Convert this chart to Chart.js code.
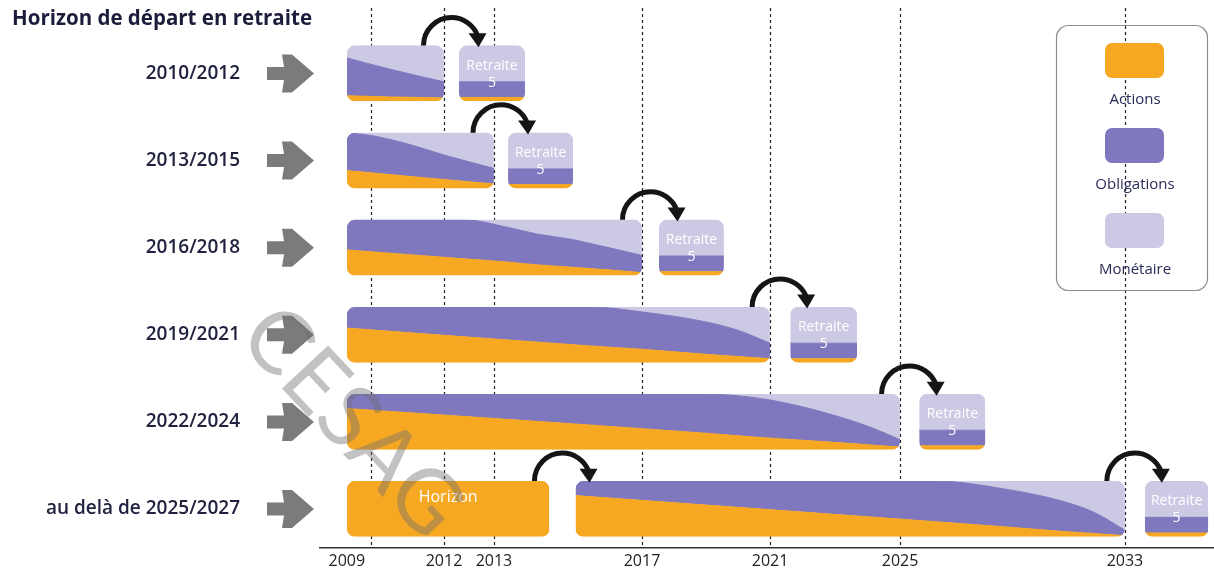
<!DOCTYPE html>
<html lang="fr">
<head>
<meta charset="utf-8">
<title>Horizon de départ en retraite</title>
<script src="https://cdn.jsdelivr.net/npm/chart.js@4.4.1/dist/chart.umd.min.js"></script>
<style>
  html, body { margin: 0; padding: 0; background: #fff; }
  #wrap { position: relative; width: 1214px; height: 571px; }
</style>
</head>
<body>
<div id="wrap"><canvas id="profil"></canvas></div>
<script>
// Libellés
const titleText = 'Horizon de départ en retraite';
const rowLabels = ['2010/2012', '2013/2015', '2016/2018', '2019/2021', '2022/2024', 'au delà de 2025/2027'];
const seriesNames = ['Actions', 'Obligations', 'Monétaire'];
const tickYears = [2009, 2012, 2013, 2017, 2021, 2025, 2033];
const dashYears = [2010, 2012, 2013, 2017, 2021, 2025, 2033];

// L'axe des années est schématique (non linéaire) dans l'original
const anchorYears = [2008, 2009, 2010, 2012, 2013, 2017, 2021, 2025, 2033, 2036.2];
const anchorPos   = [0, 0.030, 0.057, 0.1387, 0.1946, 0.3602, 0.5034, 0.6488, 0.9004, 1];

// Répartition en % de chaque profil (années, actions, obligations, monétaire)
const row1Years  = [2009, 2010.5, 2012];
const row1Actions = [10, 8, 6];
const row1Oblig   = [68, 50, 29];
const row1Monet   = [22, 42, 65];

const row2Years  = [2009, 2010, 2011, 2012, 2013];
const row2Actions = [32, 28, 22, 16, 8];
const row2Oblig   = [68, 67, 58, 44, 28];
const row2Monet   = [0, 5, 20, 40, 64];

const row3Years  = [2009, 2012.4, 2013.4, 2014.2, 2015.1, 2015.7, 2016.5, 2017];
const row3Actions = [46, 30, 24, 19, 15, 12, 8, 5];
const row3Oblig   = [54, 70, 62, 55, 50, 44, 36, 31];
const row3Monet   = [0, 0, 14, 26, 35, 44, 56, 64];

const row4Years  = [2009, 2015.6, 2017, 2019, 2020, 2021];
const row4Actions = [62, 30, 24, 15, 11, 7];
const row4Oblig   = [38, 70, 67, 58, 47, 28];
const row4Monet   = [0, 0, 9, 27, 42, 65];

const row5Years  = [2009, 2018.9, 2020.7, 2022, 2023.3, 2024.2, 2025];
const row5Actions = [74, 30, 22, 17, 12, 8, 5];
const row5Oblig   = [26, 70, 70, 60, 44, 30, 13];
const row5Monet   = [0, 0, 8, 23, 44, 62, 82];

const row6Years  = [2015.2, 2026.3, 2028.7, 2030.7, 2031.9, 2033];
const row6Actions = [74, 27, 18, 10, 6, 2];
const row6Oblig   = [26, 73, 68, 55, 38, 10];
const row6Monet   = [0, 0, 14, 35, 56, 88];

// Période "Horizon" (100 % actions) de la dernière ligne
const horizonYears = [2009, 2014.5];
const horizonLabel = 'Horizon';

// Phase de retraite (5 ans) après chaque profil
const retraiteStart = [2012.3, 2013.38, 2017.53, 2021.62, 2025.68, 2033.71];
const retraiteEnd   = [2013.84, 2015.14, 2019.56, 2023.68, 2028.04, 2036.0];
const retraiteActions = 7;
const retraiteOblig = 28;
const retraiteMonet = 65;
const retraiteLabel = ['Retraite', '5'];

const colors = ['#F7A823', '#7F78BE', '#CCC9E5'];
const BAND_HALF = 0.32;

function toX(year) {
    for (let k = 1; k < anchorYears.length; k++) {
        if (year <= anchorYears[k]) {
            const t = (year - anchorYears[k - 1]) / (anchorYears[k] - anchorYears[k - 1]);
            return anchorPos[k - 1] + t * (anchorPos[k] - anchorPos[k - 1]);
        }
    }
    return 1;
}

// position verticale d'une part cumulée (%) dans la bande d'une ligne
function rowY(row, share) {
    return row + BAND_HALF - 2 * BAND_HALF * share / 100;
}

// Construction des segments
const bands = [
    [row1Years, row1Actions, row1Oblig, row1Monet],
    [row2Years, row2Actions, row2Oblig, row2Monet],
    [row3Years, row3Actions, row3Oblig, row3Monet],
    [row4Years, row4Actions, row4Oblig, row4Monet],
    [row5Years, row5Actions, row5Oblig, row5Monet],
    [row6Years, row6Actions, row6Oblig, row6Monet],
];
const segments = [];
bands.forEach((b, i) => {
    if (i === 5) {
        segments.push({ row: i, kind: 'horizon', years: horizonYears, actions: [100, 100], oblig: [0, 0], monet: [0, 0] });
    }
    segments.push({ row: i, kind: 'band', years: b[0], actions: b[1], oblig: b[2], monet: b[3] });
    segments.push({
        row: i, kind: 'retraite', years: [retraiteStart[i], retraiteEnd[i]],
        actions: [retraiteActions, retraiteActions], oblig: [retraiteOblig, retraiteOblig], monet: [retraiteMonet, retraiteMonet]
    });
});

const datasets = [];
segments.forEach(seg => {
    datasets.push({
        data: seg.years.map(y => ({ x: toX(y), y: rowY(seg.row, 0) })),
        fill: false, borderWidth: 0, borderColor: 'rgba(0,0,0,0)'
    });
    let cum = seg.years.map(() => 0);
    [seg.actions, seg.oblig, seg.monet].forEach((vals, k) => {
        if (vals.every(v => v === 0)) return;
        cum = cum.map((c, j) => c + vals[j]);
        datasets.push({
            label: seriesNames[k],
            data: seg.years.map((y, j) => ({ x: toX(y), y: rowY(seg.row, cum[j]) })),
            fill: '-1',
            backgroundColor: colors[k],
            borderColor: colors[k],
            borderWidth: 1
        });
    });
});

function segRect(chart, seg) {
    const xs = chart.scales.x, ys = chart.scales.y;
    return {
        x0: xs.getPixelForValue(toX(seg.years[0])),
        x1: xs.getPixelForValue(toX(seg.years[seg.years.length - 1])),
        top: ys.getPixelForValue(seg.row - BAND_HALF),
        bottom: ys.getPixelForValue(seg.row + BAND_HALF)
    };
}

function curvedArrow(ctx, cx, cy) {
    const r = 28, end = Math.PI * 1.88;
    ctx.beginPath();
    ctx.arc(cx, cy, r, Math.PI, end);
    ctx.lineWidth = 5;
    ctx.strokeStyle = '#151515';
    ctx.stroke();
    const ex = cx + r * Math.cos(end), ey = cy + r * Math.sin(end);
    ctx.beginPath();
    ctx.moveTo(ex - 9, ey - 2);
    ctx.lineTo(ex + 9, ey - 2);
    ctx.lineTo(ex + 1, ey + 12);
    ctx.closePath();
    ctx.fillStyle = '#151515';
    ctx.fill();
}

function blockArrow(ctx, xr, cy) {
    ctx.beginPath();
    ctx.moveTo(xr - 47, cy - 6.5);
    ctx.lineTo(xr - 30, cy - 6.5);
    ctx.lineTo(xr - 32, cy - 19);
    ctx.lineTo(xr - 22, cy - 19);
    ctx.lineTo(xr, cy);
    ctx.lineTo(xr - 22, cy + 19);
    ctx.lineTo(xr - 32, cy + 19);
    ctx.lineTo(xr - 30, cy + 6.5);
    ctx.lineTo(xr - 47, cy + 6.5);
    ctx.closePath();
    ctx.fillStyle = '#7b7b7b';
    ctx.fill();
}

const schemaPlugin = {
    id: 'schema',
    beforeDatasetsDraw(chart) {
        const { ctx, chartArea } = chart;
        const xs = chart.scales.x;
        // pointillés verticaux
        ctx.save();
        ctx.strokeStyle = '#222';
        ctx.lineWidth = 1.2;
        ctx.setLineDash([3, 3]);
        dashYears.forEach(yr => {
            const px = Math.round(xs.getPixelForValue(toX(yr))) + 0.5;
            ctx.beginPath();
            ctx.moveTo(px, 8);
            ctx.lineTo(px, chartArea.bottom);
            ctx.stroke();
        });
        ctx.restore();
        // coins arrondis des bandes
        ctx.save();
        ctx.beginPath();
        segments.forEach(seg => {
            const r = segRect(chart, seg);
            ctx.roundRect(r.x0, r.top, r.x1 - r.x0, r.bottom - r.top, 8);
        });
        ctx.clip();
    },
    afterDatasetsDraw(chart) {
        const { ctx, chartArea } = chart;
        const ys = chart.scales.y;
        ctx.restore();

        ctx.save();
        ctx.textAlign = 'center';
        ctx.textBaseline = 'middle';
        segments.forEach((seg, k) => {
            const r = segRect(chart, seg);
            const cx = (r.x0 + r.x1) / 2;
            ctx.fillStyle = '#fff';
            if (seg.kind === 'retraite') {
                ctx.font = '14px "Open Sans"';
                ctx.fillText(retraiteLabel[0], cx, r.top + 20);
                ctx.fillText(retraiteLabel[1], cx, r.top + 37);
            } else if (seg.kind === 'horizon') {
                ctx.font = '16px "Open Sans"';
                ctx.fillText(horizonLabel, cx, r.top + 16);
            }
            // flèche courbe vers le segment suivant de la même ligne
            const next = segments[k + 1];
            if (next && next.row === seg.row) {
                const rn = segRect(chart, next);
                curvedArrow(ctx, (r.x1 + rn.x0) / 2, r.top);
            }
        });
        // flèches grises devant les libellés
        rowLabels.forEach((_, i) => blockArrow(ctx, chartArea.left - 6, ys.getPixelForValue(i)));
        ctx.restore();
    },
    afterDraw(chart) {
        const ctx = chart.ctx;
        ctx.save();
        // légende
        ctx.strokeStyle = '#8c8c8c';
        ctx.lineWidth = 1.2;
        ctx.beginPath();
        ctx.roundRect(1056.5, 25.5, 151, 265, 12);
        ctx.stroke();
        ctx.textAlign = 'center';
        ctx.textBaseline = 'middle';
        ctx.font = '15px "Open Sans"';
        seriesNames.forEach((name, k) => {
            const sy = 43 + k * 85;
            ctx.fillStyle = colors[k];
            ctx.beginPath();
            ctx.roundRect(1105, sy, 59, 35, 7);
            ctx.fill();
            ctx.fillStyle = '#2a2c58';
            ctx.fillText(name, 1135, sy + 57);
        });
        // filigrane
        ctx.translate(352, 422);
        ctx.rotate(47 * Math.PI / 180);
        ctx.font = '400 88px Lato';
        ctx.fillStyle = 'rgba(110,110,110,0.42)';
        ctx.fillText('CESAG', 0, 0);
        ctx.restore();
    }
};

const ctx = document.getElementById('profil').getContext('2d');
new Chart(ctx, {
    type: 'line',
    data: { datasets },
    options: {
        responsive: true,
        maintainAspectRatio: false,
        devicePixelRatio: 1,
        animation: false,
        events: [],
        layout: { padding: { left: 12, right: 0, top: 0, bottom: 0 } },
        elements: {
            point: { radius: 0 },
            line: { cubicInterpolationMode: 'monotone' }
        },
        plugins: {
            legend: { display: false },
            tooltip: { enabled: false },
            title: {
                display: true,
                text: titleText,
                align: 'start',
                color: '#1b1d3b',
                font: { family: 'Open Sans', size: 20.5, weight: 'bold' },
                padding: { top: 7, bottom: 6 }
            }
        },
        scales: {
            x: {
                type: 'linear',
                min: 0,
                max: 1,
                grid: { display: false, drawTicks: false },
                border: { display: true, color: '#333', width: 1.5 },
                afterBuildTicks: scale => { scale.ticks = tickYears.map(y => ({ value: toX(y) })); },
                afterFit: scale => {
                    scale.height = 23;
                    scale.paddingLeft = 0;
                    scale.paddingRight = 0;
                },
                ticks: {
                    autoSkip: false,
                    maxRotation: 0,
                    padding: 4,
                    color: '#222',
                    font: { family: 'Open Sans', size: 16 },
                    callback: (v, i) => tickYears[i]
                }
            },
            y: {
                type: 'linear',
                reverse: true,
                min: -0.412,
                max: 5.448,
                grid: { display: false, drawTicks: false },
                border: { display: false },
                afterBuildTicks: scale => { scale.ticks = rowLabels.map((_, i) => ({ value: i })); },
                afterFit: scale => {
                    scale.width = 308;
                    scale.paddingTop = 0;
                    scale.paddingBottom = 0;
                },
                ticks: {
                    padding: 80,
                    color: '#20223f',
                    font: { family: 'Open Sans', size: 19, weight: '600' },
                    callback: (v, i) => rowLabels[i]
                }
            }
        }
    },
    plugins: [schemaPlugin]
});
</script>
</body>
</html>
